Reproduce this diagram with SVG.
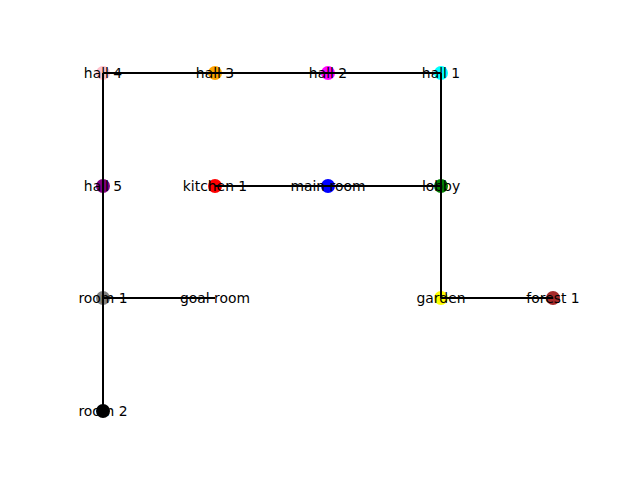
<svg xmlns="http://www.w3.org/2000/svg" width="640" height="480" viewBox="0 0 640 480">
<style>
.n{stroke:none}
.e line{stroke:#000;stroke-width:2;stroke-linecap:butt}
text{font-family:"DejaVu Sans",sans-serif;font-size:13.9px;fill:#000;text-anchor:middle;dominant-baseline:central}
</style>
<rect width="640" height="480" fill="#fff"/>
<g id="nodes-circles">
<g id="hall4"><circle class="n" cx="103" cy="73" r="7" fill="#FFC0CB"/></g>
<g id="hall3"><circle class="n" cx="215" cy="73" r="7" fill="#FFA500"/></g>
<g id="hall2"><circle class="n" cx="328" cy="73" r="7" fill="#FF00FF"/></g>
<g id="hall1"><circle class="n" cx="441" cy="73" r="7" fill="#00FFFF"/></g>
<g id="hall5"><circle class="n" cx="103" cy="186" r="7" fill="#800080"/></g>
<g id="kitchen1"><circle class="n" cx="215" cy="186" r="7" fill="#FF0000"/></g>
<g id="mainroom"><circle class="n" cx="328" cy="186" r="7" fill="#0000FF"/></g>
<g id="lobby"><circle class="n" cx="441" cy="186" r="7" fill="#008000"/></g>
<g id="room1"><circle class="n" cx="103" cy="298" r="7" fill="#808080"/></g>
<g id="goalroom"><circle class="n" cx="215" cy="298" r="7" fill="#FFFFFF"/></g>
<g id="garden"><circle class="n" cx="441" cy="298" r="7" fill="#FFFF00"/></g>
<g id="forest1"><circle class="n" cx="553" cy="298" r="7" fill="#A52A2A"/></g>
<g id="room2"><circle class="n" cx="103" cy="411" r="7" fill="#000000"/></g>
</g>
<g id="edges" class="e">
<line x1="103" y1="73" x2="215" y2="73"/>
<line x1="215" y1="73" x2="328" y2="73"/>
<line x1="328" y1="73" x2="441" y2="73"/>
<line x1="441" y1="73" x2="441" y2="186"/>
<line x1="441" y1="186" x2="328" y2="186"/>
<line x1="328" y1="186" x2="215" y2="186"/>
<line x1="441" y1="186" x2="441" y2="298"/>
<line x1="441" y1="298" x2="553" y2="298"/>
<line x1="103" y1="73" x2="103" y2="186"/>
<line x1="103" y1="186" x2="103" y2="298"/>
<line x1="103" y1="298" x2="215" y2="298"/>
<line x1="103" y1="298" x2="103" y2="411"/>
</g>
<g id="labels">
<text x="103" y="73">hall 4</text>
<text x="215" y="73">hall 3</text>
<text x="328" y="73">hall 2</text>
<text x="441" y="73">hall 1</text>
<text x="103" y="186">hall 5</text>
<text x="215" y="186">kitchen 1</text>
<text x="328" y="186">main room</text>
<text x="441" y="186">lobby</text>
<text x="103" y="298">room 1</text>
<text x="215" y="298">goal room</text>
<text x="441" y="298">garden</text>
<text x="553" y="298">forest 1</text>
<text x="103" y="411">room 2</text>
</g>
</svg>
